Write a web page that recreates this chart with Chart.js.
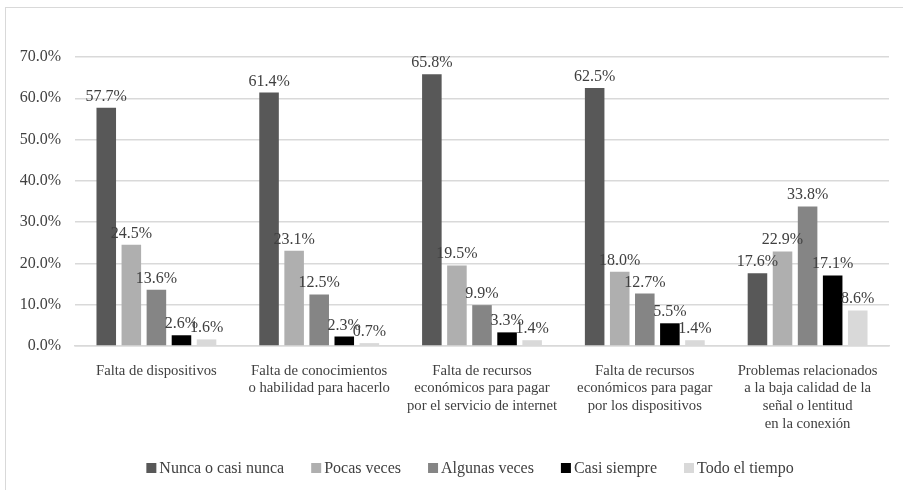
<!DOCTYPE html>
<html>
<head>
<meta charset="utf-8">
<script src="https://cdn.jsdelivr.net/npm/chart.js@4.4.0/dist/chart.umd.min.js"></script>
<style>
  html, body { margin: 0; padding: 0; background: #fff; }
  #wrap { position: relative; width: 903px; height: 490px; overflow: hidden; }
  #frame {
    position: absolute; left: 5px; top: 7px; width: 1000px; height: 600px;
    border-left: 1.5px solid #d9d9d9; border-top: 1.5px solid #d9d9d9;
  }
  canvas { position: absolute; left: 0; top: 0; }
</style>
</head>
<body>
<div id="wrap">
  <div id="frame"></div>
  <canvas id="chart" width="903" height="490"></canvas>
</div>
<script>
// categories (multi-line labels)
const categories = [
  ['Falta de dispositivos'],
  ['Falta de conocimientos', 'o habilidad para hacerlo'],
  ['Falta de recursos', 'económicos para pagar', 'por el servicio de internet'],
  ['Falta de recursos', 'económicos para pagar', 'por los dispositivos'],
  ['Problemas relacionados', 'a la baja calidad de la', 'señal o lentitud', 'en la conexión']
];

const seriesNames = ['Nunca o casi nunca', 'Pocas veces', 'Algunas veces', 'Casi siempre', 'Todo el tiempo'];

const nunca    = [57.7, 61.4, 65.8, 62.5, 17.6];
const pocas    = [24.5, 23.1, 19.5, 18.0, 22.9];
const algunas  = [13.6, 12.5, 9.9, 12.7, 33.8];
const casi     = [2.6, 2.3, 3.3, 5.5, 17.1];
const todo     = [1.6, 0.7, 1.4, 1.4, 8.6];

const colors = ['#585858', '#afafaf', '#858585', '#000000', '#d9d9d9'];
const serif = '"Liberation Serif", "DejaVu Serif", serif';
const textColor = '#404040';

// value labels above each bar
const barLabels = {
  id: 'barLabels',
  afterDatasetsDraw(chart) {
    const c = chart.ctx;
    c.save();
    c.font = '16px ' + serif;
    c.fillStyle = textColor;
    c.textAlign = 'center';
    c.textBaseline = 'alphabetic';
    chart.data.datasets.forEach((ds, i) => {
      chart.getDatasetMeta(i).data.forEach((bar, j) => {
        c.fillText(ds.data[j].toFixed(1) + '%', bar.x, bar.y - 7);
      });
    });
    c.restore();
  }
};

// compact legend (small square, tight gap) like the original
const compactLegend = {
  id: 'compactLegend',
  afterDraw(chart) {
    const c = chart.ctx;
    const box = 10, gapText = 3, gapItem = 27;
    c.save();
    c.font = '16px ' + serif;
    const widths = seriesNames.map(n => box + gapText + c.measureText(n).width);
    const total = widths.reduce((a, b) => a + b, 0) + gapItem * (widths.length - 1);
    let x = 470 - total / 2;
    const y = 468;
    c.textBaseline = 'middle';
    c.textAlign = 'left';
    seriesNames.forEach((n, i) => {
      c.fillStyle = colors[i];
      c.fillRect(x, y - box / 2, box, box);
      c.fillStyle = textColor;
      c.fillText(n, x + box + gapText, y + 1);
      x += widths[i] + gapItem;
    });
    c.restore();
  }
};

const allSeries = [nunca, pocas, algunas, casi, todo];

new Chart(document.getElementById('chart'), {
  type: 'bar',
  data: {
    labels: categories,
    datasets: allSeries.map((d, i) => ({
      label: seriesNames[i],
      data: d,
      backgroundColor: colors[i],
      borderWidth: 0,
      categoryPercentage: 0.77,
      barPercentage: 0.78
    }))
  },
  options: {
    responsive: false,
    animation: false,
    layout: { padding: { top: 57, right: 14, left: 0, bottom: 42 } },
    plugins: {
      legend: { display: false },
      tooltip: { enabled: false }
    },
    scales: {
      x: {
        grid: { display: false, drawTicks: false },
        border: { color: '#d9d9d9', width: 1.5 },
        ticks: {
          font: { family: serif, size: 14.7, lineHeight: 1.2 },
          color: textColor,
          padding: 16,
          maxRotation: 0,
          autoSkip: false
        },
        afterFit(s) { s.height = 102; }
      },
      y: {
        min: 0,
        max: 70,
        ticks: {
          stepSize: 10,
          font: { family: serif, size: 16 },
          color: textColor,
          padding: 14,
          callback: v => v.toFixed(1) + '%'
        },
        grid: { color: '#d9d9d9', lineWidth: 1.5, drawTicks: false },
        border: { display: false },
        afterFit(s) { s.width = 75; }
      }
    }
  },
  plugins: [barLabels, compactLegend]
});
</script>
</body>
</html>
